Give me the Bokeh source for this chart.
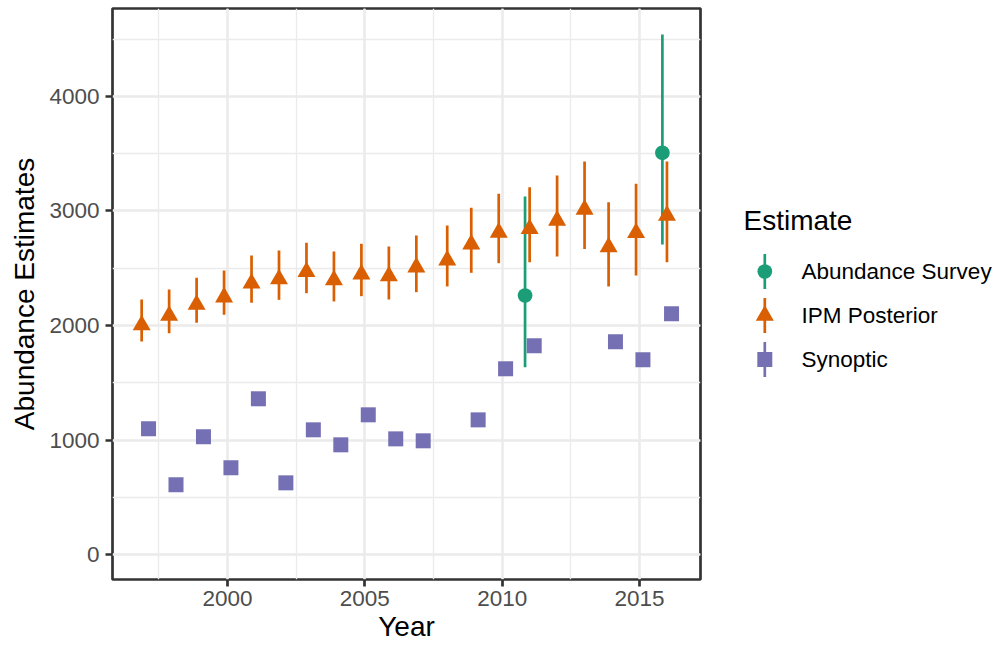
from bokeh.plotting import figure
from bokeh.layouts import row
from bokeh.models import ColumnDataSource, SingleIntervalTicker, Range1d
from bokeh.core.properties import value
from bokeh.embed import file_html
from bokeh.resources import INLINE

# ---------------- data ----------------
SERIES = ["Abundance Survey", "IPM Posterior", "Synoptic"]
COLORS = ["#1B9E77", "#D95F02", "#7570B3"]
MARKERS = ["circle", "triangle", "square"]
MARKER_SIZES = [14.7, 18, 15]

survey_years = [2011, 2016]
survey_mid = [2262, 3508]
survey_lo = [1636, 2707]
survey_hi = [3127, 4541]

ipm_years = list(range(1997, 2017))
ipm_mid = [2003, 2087, 2183, 2247, 2368, 2405, 2469, 2396, 2448, 2431,
           2509, 2570, 2710, 2812, 2844, 2917, 3013, 2684, 2809, 2961]
ipm_lo = [1860, 1933, 2024, 2093, 2198, 2224, 2282, 2210, 2256, 2227,
          2291, 2341, 2460, 2544, 2553, 2603, 2667, 2341, 2437, 2553]
ipm_hi = [2227, 2314, 2416, 2480, 2611, 2655, 2722, 2646, 2713, 2690,
          2786, 2873, 3028, 3150, 3208, 3310, 3432, 3077, 3237, 3432]

syn_years = [1997, 1998, 1999, 2000, 2001, 2002, 2003, 2004, 2005, 2006,
             2007, 2009, 2010, 2011, 2014, 2015, 2016]
syn_mid = [1098, 609, 1028, 757, 1360, 626, 1089, 958, 1220, 1010,
           993, 1176, 1622, 1823, 1858, 1700, 2102]

X_TICK_INTERVAL = 5
Y_TICK_INTERVAL = 1000
X_LIMITS = (1995.813, 2017.221)
Y_LIMITS = (-218, 4768)
DODGE_WIDTH = 0.5

FONT = "Liberation Sans"

series_data = [
    (survey_years, survey_mid, survey_lo, survey_hi),
    (ipm_years, ipm_mid, ipm_lo, ipm_hi),
    (syn_years, syn_mid, None, None),
]

# groups present at each year (in series order) -> position_dodge
present = {}
for name, (yrs, _, _, _) in zip(SERIES, series_data):
    for yr in yrs:
        present.setdefault(yr, []).append(name)


def dodge(name, yrs, w=DODGE_WIDTH):
    out = []
    for yr in yrs:
        grp = present[yr]
        n = len(grp)
        i = grp.index(name)
        out.append(yr - w / 2 + w / (2 * n) + i * w / n)
    return out


FIG_H = 647
FRAME_TOP, FRAME_BOTTOM = 8, 579

# ---------------- main plot ----------------
p = figure(width=708, height=FIG_H, output_backend="svg", toolbar_location=None,
           x_range=Range1d(*X_LIMITS), y_range=Range1d(*Y_LIMITS),
           min_border_left=112, min_border_right=8, min_border_top=FRAME_TOP,
           min_border_bottom=FIG_H - FRAME_BOTTOM, x_axis_label="Year",
           y_axis_label="Abundance Estimates")
p.background_fill_color = "white"
p.border_fill_color = "white"
p.outline_line_color = "#333333"
p.outline_line_width = 2.7

p.xaxis.ticker = SingleIntervalTicker(interval=X_TICK_INTERVAL, num_minor_ticks=2)
p.yaxis.ticker = SingleIntervalTicker(interval=Y_TICK_INTERVAL, num_minor_ticks=2)

for ax in (p.xaxis, p.yaxis):
    ax.axis_line_color = None
    ax.major_tick_line_color = "#333333"
    ax.major_tick_line_width = 2.7
    ax.major_tick_out = 7
    ax.major_tick_in = 0
    ax.minor_tick_line_color = None
    ax.major_label_text_font = FONT
    ax.major_label_text_font_size = "22.5px"
    ax.major_label_text_color = "#4D4D4D"
    ax.axis_label_text_font = FONT
    ax.axis_label_text_font_size = "28px"
    ax.axis_label_text_font_style = "normal"
    ax.axis_label_text_color = "black"

p.xaxis.major_label_standoff = 4
p.xaxis.axis_label_standoff = 2
p.yaxis.major_label_standoff = 6
p.yaxis.axis_label_standoff = 6

p.grid.grid_line_color = "#EBEBEB"
p.grid.grid_line_width = 2.6
p.grid.minor_grid_line_color = "#EBEBEB"
p.grid.minor_grid_line_width = 1.3

for name, color, marker, msize, (yrs, mid, lo, hi) in zip(
        SERIES, COLORS, MARKERS, MARKER_SIZES, series_data):
    xs = dodge(name, yrs)
    src = dict(x=xs, y=mid)
    if lo is not None:
        src["lo"] = lo
        src["hi"] = hi
    source = ColumnDataSource(src)
    if lo is not None:
        p.segment(x0="x", y0="lo", x1="x", y1="hi", source=source,
                  line_color=color, line_width=2.7)
    p.scatter(x="x", y="y", source=source, marker=marker, size=msize,
              fill_color=color, line_color=None)

# ---------------- legend (separate panel, frame aligned with main frame) ----
LEG_W = 293
lg = figure(width=LEG_W, height=FIG_H, output_backend="svg", toolbar_location=None,
            x_range=Range1d(0, LEG_W), y_range=Range1d(FRAME_BOTTOM, FRAME_TOP),
            min_border_left=0, min_border_right=0, min_border_top=FRAME_TOP,
            min_border_bottom=FIG_H - FRAME_BOTTOM,
            x_axis_location=None, y_axis_location=None)
lg.outline_line_color = None
lg.grid.visible = False
lg.background_fill_color = "white"
lg.border_fill_color = "white"

TITLE_X, TITLE_Y = 35, 220
KEY_X, KEY_Y0, KEY_DY, KEY_H = 56.3, 271, 44, 35
TEXT_X = 93

lg.text(x=[TITLE_X], y=[TITLE_Y], text=["Estimate"], text_font=value(FONT),
        text_font_size="28px", text_color="black", text_baseline="middle",
        text_align="left")

for i, (name, color, marker, msize) in enumerate(zip(SERIES, COLORS, MARKERS, MARKER_SIZES)):
    ky = KEY_Y0 + i * KEY_DY
    lg.segment(x0=[KEY_X], y0=[ky - KEY_H / 2], x1=[KEY_X], y1=[ky + KEY_H / 2],
               line_color=color, line_width=2.7)
    lg.scatter(x=[KEY_X], y=[ky], marker=marker, size=msize,
               fill_color=color, line_color=None)
    lg.text(x=[TEXT_X], y=[ky], text=[name], text_font=value(FONT),
            text_font_size="22.5px", text_color="black", text_baseline="middle",
            text_align="left")

layout = row(p, lg)
open("out.html", "w").write(file_html(layout, INLINE))
